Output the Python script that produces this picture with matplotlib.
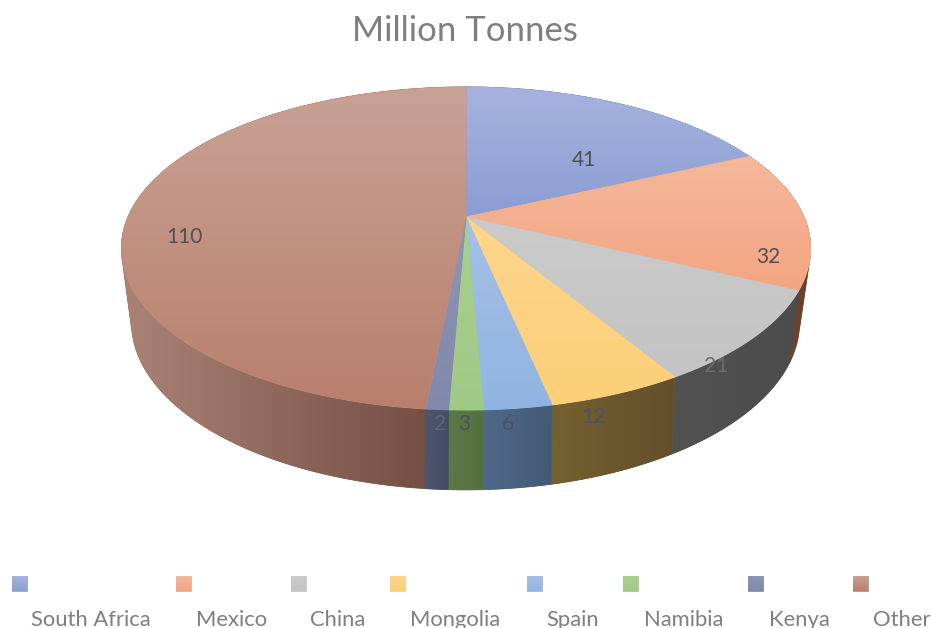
import numpy as np
import matplotlib
matplotlib.use("Agg")
import matplotlib.pyplot as plt
from matplotlib.colors import LinearSegmentedColormap
from matplotlib.patches import Polygon

plt.rcParams["font.family"] = ["Lato", "DejaVu Sans"]

# ---------- Data ----------
countries = ["South Africa", "Mexico", "China", "Mongolia", "Spain", "Namibia", "Kenya", "Other"]
tonnes = [41, 32, 21, 12, 6, 3, 2, 110]

# ---------- Styles ----------
top_light = ["#a6b3de", "#f4b89b", "#cacaca", "#fdd68c", "#a5c0e6", "#a9d08e", "#8e96b4", "#c8a195"]
top_dark = ["#8a9dd4", "#f3a581", "#c4c4c4", "#fccf78", "#90b4e2", "#9fca84", "#8088ac", "#b97f6d"]
side_left = ["#55648a", "#7a4c36", "#525252", "#75602f", "#50698a", "#5b7a48", "#4d5670", "#ab8376"]
side_right = ["#55648a", "#6a3f2e", "#4c4c4c", "#634f2a", "#435a75", "#54703f", "#454d66", "#6e483e"]
label_xy = [(584, 160), (768, 257), (716, 366), (593, 417), (508, 424), (464, 424), (440, 424), (184, 237)]
label_colors = ["#505050", "#505050", "#6c6c6c", "#4a5568", "#4f4f5a", "#4f4f5a", "#646470", "#505050"]
swatch_x = [12, 176, 291, 390, 527, 623, 748, 853]
legend_x = [31, 196, 310, 410, 546, 644, 769, 873]

# perspective of the disc: top face and the slightly flatter bottom face
TOP = dict(cx=466, cy=217, rx=338, ry=155.4, tilt=0.195)
BOTTOM = dict(cx=465.5, cy=285, rx=326, ry=160, tilt=0.219)


def project(theta, face):
    u, v = np.sin(theta), np.cos(theta)
    d = 1 + face["tilt"] * v
    return face["cx"] + face["rx"] * u / d, face["cy"] - face["ry"] * v / d


def convex_hull(pts):
    # monotone chain, keeps the tangent line between the two faces at the silhouette
    pts = sorted(map(tuple, pts))

    def half(seq):
        out = []
        for p in seq:
            while len(out) > 1:
                (ax_, ay), (bx, by) = out[-2], out[-1]
                if (bx - ax_) * (p[1] - ay) - (by - ay) * (p[0] - ax_) > 0:
                    break
                out.pop()
            out.append(p)
        return out[:-1]

    return np.array(half(pts) + half(pts[::-1]))


def gradient_patch(ax, pts, c0, c1, vertical):
    # solid polygon under the clipped ramp closes the hairline seams between slices
    base = LinearSegmentedColormap.from_list("m", [c0, c1])(0.5)
    under = Polygon(pts, closed=True, facecolor=base, edgecolor=base, linewidth=0.6, zorder=0)
    ax.add_patch(under)
    poly = Polygon(pts, closed=True, facecolor="none", edgecolor="none", zorder=0)
    ax.add_patch(poly)
    cmap = LinearSegmentedColormap.from_list("g", [c0, c1])
    ramp = np.linspace(0, 1, 256)
    ramp = ramp[:, None] if vertical else ramp[None, :]
    x0, y0 = pts.min(axis=0)
    x1, y1 = pts.max(axis=0)
    im = ax.imshow(ramp, cmap=cmap, extent=(x0, x1, y1, y0), aspect="auto", interpolation="bilinear", zorder=0)
    im.set_clip_path(poly)


fig = plt.figure(figsize=(9.32, 6.28), dpi=100)
ax = fig.add_axes([0, 0, 1, 1])

edges = np.cumsum([0] + tonnes) / sum(tonnes) * 2 * np.pi

# sides first, the top faces cover whatever is behind. Other goes first because its hull is the widest
for i in [7, 0, 1, 2, 3, 4, 5, 6]:
    th = np.linspace(edges[i], edges[i + 1], 200)
    tx, ty = project(th, TOP)
    bx, by = project(th, BOTTOM)
    pts = convex_hull(np.column_stack([np.r_[tx, bx], np.r_[ty, by]]))
    gradient_patch(ax, pts, side_left[i], side_right[i], vertical=False)

for i in range(len(tonnes)):
    th = np.linspace(edges[i], edges[i + 1], 300)
    tx, ty = project(th, TOP)
    pts = np.column_stack([np.r_[TOP["cx"], tx], np.r_[TOP["cy"], ty]])
    gradient_patch(ax, pts, top_light[i], top_dark[i], vertical=True)

for val, (x, y), col in zip(tonnes, label_xy, label_colors):
    ax.text(x, y, str(val), ha="center", va="center", fontsize=15, color=col)

ax.text(465, 31, "Million Tonnes", ha="center", va="center", fontsize=25, color="#7f7f7f")

# legend: swatch above, name below
for name, sx, lx, c0, c1 in zip(countries, swatch_x, legend_x, top_light, top_dark):
    box = np.array([[sx, 576], [sx + 15, 576], [sx + 15, 591], [sx, 591]], dtype=float)
    gradient_patch(ax, box, c0, c1, vertical=True)
    ax.text(lx, 619.5, name, ha="left", va="center", fontsize=15.8, color="#7f7f7f")

ax.set_xlim(0, 932)
ax.set_ylim(628, 0)
ax.axis("off")
fig.savefig("out.png", dpi=100)
